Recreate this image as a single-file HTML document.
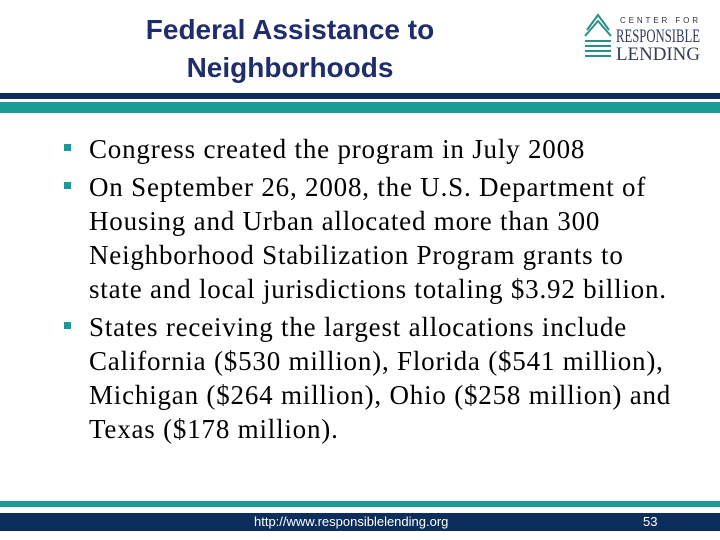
<!DOCTYPE html>
<html><head><meta charset="utf-8"><style>
body{margin:0;width:720px;height:540px;background:#fff;position:relative;overflow:hidden;font-family:"Liberation Serif",serif}
.t{position:absolute;left:0;width:580px;text-align:center;font:bold 28px "Liberation Sans",sans-serif;color:#1f2d6b;white-space:nowrap}
.l{position:absolute;left:89px;font-size:27px;letter-spacing:0.8px;color:#000;white-space:nowrap;line-height:1}
.b{position:absolute;left:64px;width:7px;height:7px;background:#1b9a96}
</style></head><body>
<div class="t" style="top:14px">Federal Assistance to</div>
<div class="t" style="top:52px">Neighborhoods</div>
<svg style="position:absolute;left:580px;top:10px" width="130" height="55">
<g fill="none" stroke="#2a8f8a" stroke-width="2">
<path d="M7 20 L18 5 L29 20"/><path d="M5 26 L18 11 L31 26"/><path d="M5 31 L31 31"/><path d="M5 36 L31 36"/><path d="M5 41 L31 41"/><path d="M5 46 L31 46"/></g>
<text x="40" y="13" font-family="Liberation Sans" font-size="8" fill="#333" textLength="78" lengthAdjust="spacing">CENTER FOR</text>
<text x="36" y="32" font-family="Liberation Serif" font-size="19" fill="#333a5a" textLength="84" lengthAdjust="spacingAndGlyphs">RESPONSIBLE</text>
<text x="36" y="50" font-family="Liberation Serif" font-size="19" fill="#333a5a" textLength="84" lengthAdjust="spacingAndGlyphs">LENDING</text>
</svg>
<div style="position:absolute;left:0;top:93px;width:720px;height:6px;background:#0b2e5c"></div>
<div style="position:absolute;left:0;top:102px;width:720px;height:11px;background:#1b9a96"></div>

<div class="b" style="top:144px"></div>
<div class="b" style="top:182px"></div>
<div class="b" style="top:322px"></div>
<div class="l" style="top:136px">Congress created the program in July 2008</div>
<div class="l" style="top:174px">On September 26, 2008, the U.S. Department of</div>
<div class="l" style="top:208px">Housing and Urban allocated more than 300</div>
<div class="l" style="top:242px">Neighborhood Stabilization Program grants to</div>
<div class="l" style="top:276px">state and local jurisdictions totaling $3.92 billion.</div>
<div class="l" style="top:314px">States receiving the largest allocations include</div>
<div class="l" style="top:348px">California ($530 million), Florida ($541 million),</div>
<div class="l" style="top:382px">Michigan ($264 million), Ohio ($258 million) and</div>
<div class="l" style="top:416px">Texas ($178 million).</div>

<div style="position:absolute;left:0;top:501px;width:720px;height:6px;background:#1b9a96"></div>
<div style="position:absolute;left:0;top:513px;width:720px;height:18px;background:#0b2e5c"></div>
<div style="position:absolute;left:254px;top:514px;font:13px 'Liberation Sans',sans-serif;color:#fff">http://www.responsiblelending.org</div>
<div style="position:absolute;left:643px;top:514px;font:13px 'Liberation Sans',sans-serif;color:#fff">53</div>
</body></html>
